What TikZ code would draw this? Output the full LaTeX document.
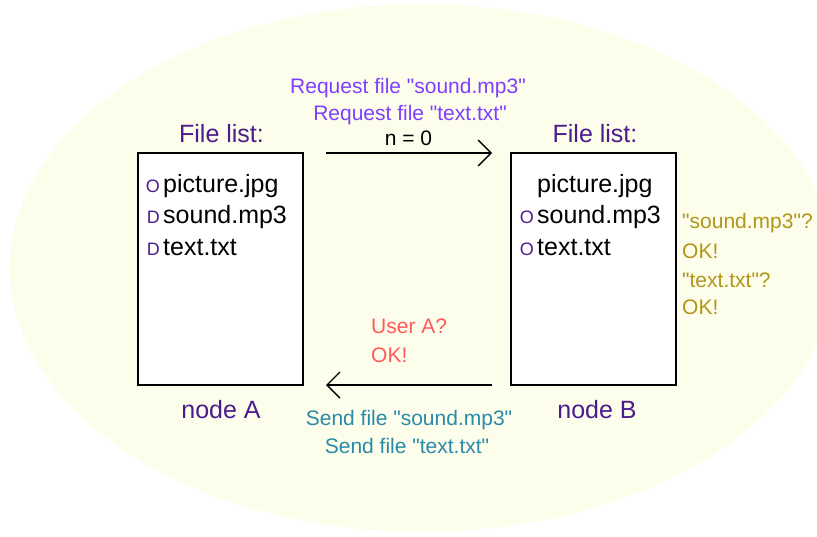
\documentclass[tikz,border=0pt]{standalone}
\usepackage{fontspec}
\setmainfont{Liberation Sans}
\usetikzlibrary{arrows.meta}

\definecolor{cream}{HTML}{FDFDEC}
\definecolor{listpurple}{HTML}{4B1C8C}
\definecolor{reqviolet}{HTML}{7F3FFF}
\definecolor{askred}{HTML}{FF5A5A}
\definecolor{sendteal}{HTML}{2A8AAA}
\definecolor{okolive}{HTML}{B0961A}
\newcommand{\qt}{\textquotedbl}

\begin{document}
\begin{tikzpicture}[x=1pt, y=-1pt,
  every node/.style={inner sep=0pt, anchor=base},
  listbox/.style={draw, line width=1.5pt, fill=white, anchor=center,
    minimum width=165pt, minimum height=232pt},
  title/.style={text=listpurple, font=\fontsize{25}{30}\selectfont},
  item/.style={anchor=base west, font=\fontsize{25}{30}\selectfont},
  fmark/.style={anchor=base east, xshift=-3pt, text=listpurple, font=\fontsize{18}{20}\selectfont},
  msg/.style={font=\fontsize{21}{25}\selectfont},
  flow/.style={line width=1.4pt, -{Straight Barb[length=13pt, width=26pt, line width=1.4pt]}}]
  \useasboundingbox (0,0) rectangle (817,536);
  % background
  \fill[cream] (422,268) ellipse [x radius=412pt, y radius=264pt];

  % the two peers
  \node[listbox] (boxA) at (220.5,269) {};
  \node[listbox] (boxB) at (593.5,269) {};
  \node[title] (listA) at (221.5,142) {File list:};
  \node[title] (listB) at (595,142) {File list:};
  \node[title] (nodeA) at (221,418) {node A};
  \node[title] (nodeB) at (597,418) {node B};

  % file lists
  \node[item] (picA) at (163,192) {picture.jpg};
  \node[item] (sndA) at (163,223.5) {sound.mp3};
  \node[item] (txtA) at (163,255) {text.txt};
  \node[item] (picB) at (537,192) {picture.jpg};
  \node[item] (sndB) at (537,223.5) {sound.mp3};
  \node[item] (txtB) at (537,255) {text.txt};
  \node[fmark] (mpicA) at (picA.base west) {O};
  \node[fmark] (msndA) at (sndA.base west) {D};
  \node[fmark] (mtxtA) at (txtA.base west) {D};
  \node[fmark] (msndB) at (sndB.base west) {O};
  \node[fmark] (mtxtB) at (txtB.base west) {O};

  % request A -> B
  \node[msg, text=reqviolet] (req1) at (408,93) {Request file \qt sound.mp3\qt};
  \node[msg, text=reqviolet] (req2) at (410,120) {Request file \qt text.txt\qt};
  \node[msg] (cnt) at (408.5,145) {n = 0};
  \coordinate (reqfrom) at (326,153);
  \coordinate (reqto) at (492,153);
  \draw[flow] (reqfrom) -- (reqto);

  % answer B -> A
  \node[msg, text=askred, anchor=base west] (ask) at (371,333) {User A?};
  \node[msg, text=askred, anchor=base west] (askok) at (371,362) {OK!};
  \coordinate (sendfrom) at (492,385);
  \coordinate (sendto) at (326,385);
  \draw[flow] (sendfrom) -- (sendto);
  \node[msg, text=sendteal] (send1) at (409,425) {Send file \qt sound.mp3\qt};
  \node[msg, text=sendteal] (send2) at (407,453) {Send file \qt text.txt\qt};

  % checks at node B
  \node[msg, text=okolive, anchor=base west] (chk1) at (682,228) {\qt sound.mp3\qt ?};
  \node[msg, text=okolive, anchor=base west] (ok1) at (682,258) {OK!};
  \node[msg, text=okolive, anchor=base west] (chk2) at (682,287) {\qt text.txt\qt ?};
  \node[msg, text=okolive, anchor=base west] (ok2) at (682,314) {OK!};
\end{tikzpicture}
\end{document}
